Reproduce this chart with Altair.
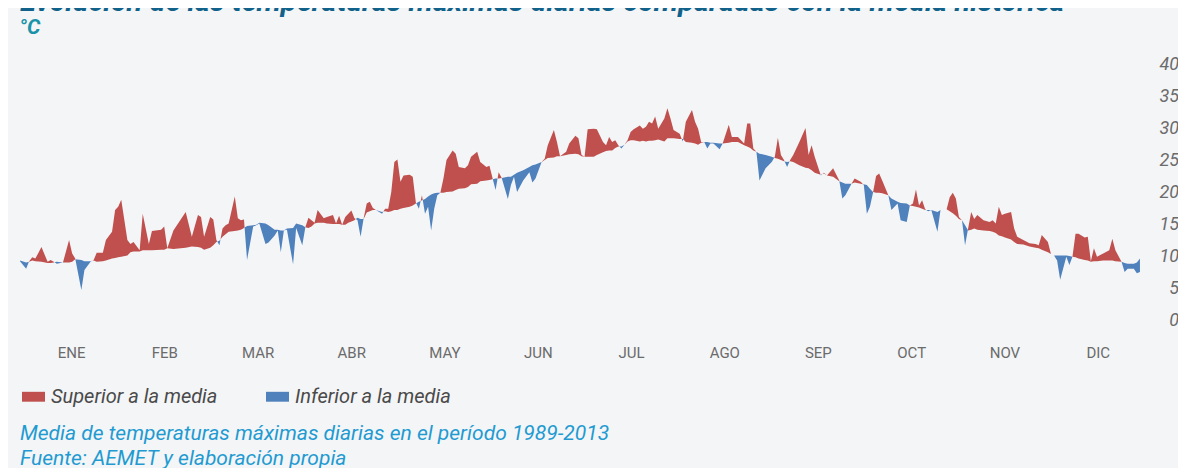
import altair as alt
import pandas as pd

titulo = "Evolución de las temperaturas máximas diarias comparadas con la media histórica"
unidad = "°C"
nota = "Media de temperaturas máximas diarias en el período 1989-2013"
fuente = "Fuente: AEMET y elaboración propia"
series = ["Superior a la media", "Inferior a la media"]
colores = ["#c0504d", "#4f81bd"]
meses = ["ENE", "FEB", "MAR", "ABR", "MAY", "JUN", "JUL", "AGO", "SEP", "OCT", "NOV", "DIC"]
mes_pos = [16.8, 47.2, 77.6, 108.1, 138.5, 168.9, 199.3, 229.7, 260.2, 290.6, 321.0, 351.4]
ticks_y = [0, 5, 10, 15, 20, 25, 30, 35, 40]

# ---- enero - marzo ----
dias_1 = [0, 2, 3, 4, 5, 7, 9, 10, 11, 12,
          14, 16, 17, 18, 20, 21, 23, 24, 25, 27,
          28, 30, 31, 32, 33, 35, 36, 37, 39, 40,
          42, 43, 46, 47, 48, 50, 54, 56, 58, 59,
          60, 62, 63, 64, 65, 66, 67, 68, 70, 71,
          72, 73, 74, 76, 77, 78, 80, 81, 83, 84,
          85, 86, 87, 89, 90, 92, 93]
maxima_1 = [10.6, 9.4, 10.6, 11.2, 11.0, 12.8, 10.5, 10.8, 10.5, 10.2,
            10.4, 13.9, 11.8, 11.0, 6.1, 9.2, 10.5, 10.8, 11.9, 11.9,
            13.9, 15.2, 18.6, 19.1, 20.2, 13.9, 13.3, 13.6, 12.3, 18.0,
            13.3, 15.3, 15.5, 16.0, 12.6, 15.4, 18.3, 14.4, 17.8, 17.5,
            14.4, 17.5, 17.1, 13.9, 13.1, 15.7, 16.2, 16.5, 20.7, 17.3,
            17.0, 17.1, 10.8, 16.0, 16.2, 16.5, 13.3, 13.5, 14.6, 15.4,
            12.0, 15.4, 15.5, 10.1, 15.8, 13.1, 15.9]
media_1 = [10.7, 10.4, 10.5, 10.7, 10.6, 10.5, 10.3, 10.3, 10.4, 10.5,
           10.4, 10.4, 10.5, 10.9, 10.8, 10.6, 10.6, 10.7, 10.5, 10.6,
           10.7, 11.0, 11.1, 11.2, 11.3, 11.5, 12.0, 12.1, 12.1, 12.3,
           12.3, 12.3, 12.4, 12.4, 12.6, 12.5, 12.7, 12.9, 12.8, 12.7,
           12.4, 12.7, 13.1, 13.6, 13.8, 14.4, 14.8, 15.2, 15.3, 15.4,
           15.5, 15.8, 16.1, 16.2, 16.3, 16.6, 16.5, 16.2, 15.5, 15.5,
           15.4, 15.4, 15.7, 15.8, 16.5, 16.2, 15.9]

# ---- abril - junio ----
dias_2 = [94, 95, 96, 97, 99, 100, 102, 103, 104, 105,
          106, 107, 108, 109, 110, 111, 112, 113, 114, 115,
          116, 118, 119, 120, 121, 122, 123, 124, 125, 127,
          128, 129, 130, 131, 132, 133, 134, 135, 136, 137,
          138, 139, 141, 142, 143, 145, 146, 147, 149, 150,
          152, 153, 154, 155, 156, 157, 159, 160, 161, 162,
          164, 166, 167, 168, 170, 171, 172, 174, 175, 176,
          178, 179, 181, 182, 183]
maxima_2 = [17.4, 17.0, 16.6, 18.6, 17.3, 17.5, 17.8, 16.5, 17.7, 16.3,
            17.5, 18.0, 18.5, 17.3, 17.0, 14.4, 17.3, 19.6, 19.9, 18.9,
            18.6, 18.0, 18.8, 18.8, 21.4, 26.1, 26.5, 23.0, 24.0, 24.1,
            23.8, 19.8, 18.8, 20.9, 18.0, 19.1, 15.4, 18.8, 20.9, 21.3,
            23.5, 26.4, 27.9, 27.4, 25.3, 25.1, 25.6, 26.9, 27.7, 26.1,
            25.3, 25.5, 23.6, 21.7, 24.5, 23.6, 20.3, 22.5, 23.8, 21.4,
            23.2, 24.5, 22.9, 23.5, 26.1, 26.6, 28.7, 31.1, 29.2, 27.0,
            27.7, 29.0, 30.2, 29.8, 27.2]
media_2 = [15.8, 16.0, 16.5, 16.6, 16.6, 16.5, 16.4, 16.4, 16.4, 16.3,
           16.3, 16.6, 16.8, 17.0, 17.4, 17.2, 17.2, 18.2, 18.4, 18.6,
           18.6, 18.3, 18.4, 18.3, 18.4, 18.6, 18.6, 18.8, 18.9, 19.1,
           19.3, 19.6, 19.9, 20.1, 20.3, 20.7, 21.0, 21.2, 21.3, 21.3,
           21.3, 21.4, 21.5, 21.7, 21.9, 22.0, 22.2, 22.6, 22.7, 23.1,
           23.2, 23.3, 23.4, 23.5, 23.5, 23.6, 23.8, 23.8, 24.1, 24.4,
           24.8, 25.3, 25.6, 25.7, 26.1, 26.4, 26.7, 26.8, 27.0, 27.0,
           27.2, 27.3, 27.4, 27.3, 27.0]

# ---- julio - septiembre ----
dias_3 = [184, 185, 187, 188, 190, 191, 192, 193, 194, 195,
          196, 197, 198, 199, 200, 202, 203, 204, 205, 206,
          207, 208, 210, 211, 212, 213, 215, 216, 217, 219,
          220, 221, 222, 223, 224, 225, 226, 228, 229, 231,
          232, 234, 236, 237, 238, 239, 240, 241, 243, 245,
          246, 247, 248, 249, 250, 251, 252, 254, 256, 257,
          258, 259, 261, 262, 263, 265, 267, 268, 269, 271,
          272, 274, 275]
maxima_3 = [26.9, 31.2, 31.3, 31.2, 29.2, 28.7, 30.0, 29.2, 29.5, 28.7,
            28.2, 28.8, 29.5, 30.8, 31.2, 31.8, 31.3, 31.6, 32.4, 32.1,
            33.2, 31.3, 32.9, 34.5, 32.9, 31.1, 30.5, 29.3, 32.4, 34.2,
            32.4, 31.3, 29.2, 29.2, 28.2, 29.0, 29.0, 28.1, 29.0, 31.9,
            30.0, 30.0, 29.0, 32.1, 32.1, 28.2, 27.7, 23.2, 25.1, 26.1,
            26.9, 29.9, 27.2, 26.4, 25.3, 26.4, 27.2, 29.2, 31.4, 27.2,
            28.7, 26.9, 24.0, 24.4, 24.0, 25.1, 23.2, 20.4, 20.9, 22.7,
            23.5, 23.0, 22.5]
media_3 = [26.9, 26.9, 26.9, 27.2, 27.6, 27.8, 27.9, 27.9, 28.3, 28.5,
           28.5, 28.8, 29.3, 29.5, 29.5, 29.3, 29.4, 29.3, 29.4, 29.4,
           29.5, 29.6, 29.3, 29.8, 29.8, 29.8, 29.7, 29.7, 29.2, 29.1,
           29.0, 28.8, 29.1, 29.2, 29.2, 29.1, 29.1, 29.0, 29.0, 29.1,
           29.2, 29.2, 28.7, 28.5, 28.3, 27.9, 27.7, 27.4, 27.2, 26.9,
           26.7, 26.6, 26.4, 26.2, 26.1, 26.2, 26.1, 25.6, 25.2, 25.1,
           24.8, 24.4, 24.1, 24.3, 24.0, 23.8, 23.1, 22.9, 22.7, 22.7,
           22.9, 22.7, 22.6]

# ---- octubre - diciembre ----
dias_4 = [276, 277, 278, 279, 280, 281, 283, 284, 286, 287,
          289, 290, 291, 292, 293, 294, 295, 296, 297, 299,
          300, 302, 303, 304, 305, 306, 307, 308, 309, 310,
          311, 312, 314, 316, 317, 318, 319, 320, 321, 323,
          324, 325, 327, 329, 331, 332, 333, 335, 336, 337,
          338, 339, 341, 342, 343, 344, 345, 347, 348, 349,
          350, 351, 353, 355, 356, 357, 359, 360, 361, 363,
          364, 365]
maxima_4 = [18.0, 19.1, 21.3, 23.9, 24.3, 23.2, 20.9, 18.6, 19.6, 17.0,
            16.7, 19.3, 19.6, 21.8, 19.3, 20.1, 18.7, 18.4, 18.6, 15.2,
            18.6, 18.7, 20.6, 21.3, 20.4, 17.5, 17.0, 13.1, 15.7, 18.3,
            17.2, 17.8, 17.0, 16.7, 17.0, 16.5, 19.1, 17.8, 18.0, 18.3,
            15.7, 14.4, 13.9, 13.4, 13.3, 13.1, 14.7, 13.6, 11.7, 11.5,
            10.7, 7.7, 11.3, 10.0, 11.3, 14.9, 14.9, 14.3, 14.4, 10.6,
            12.6, 11.3, 11.8, 12.3, 14.1, 12.3, 10.5, 8.9, 9.4, 9.4,
            8.7, 8.9]
media_4 = [22.5, 21.9, 21.4, 21.3, 21.3, 21.2, 20.9, 20.4, 19.9, 19.7,
           19.6, 19.3, 19.2, 19.1, 19.0, 18.8, 18.6, 18.6, 18.6, 18.3,
           18.6, 18.7, 18.4, 18.1, 17.7, 17.2, 17.0, 16.2, 15.4, 15.5,
           15.7, 15.5, 15.4, 15.3, 15.2, 15.0, 14.6, 14.5, 14.3, 14.0,
           13.6, 13.3, 13.2, 12.9, 12.7, 12.6, 12.4, 12.0, 11.7, 11.5,
           11.5, 11.5, 11.5, 11.4, 11.3, 11.2, 11.0, 10.8, 10.7, 10.5,
           10.6, 10.6, 10.7, 10.7, 10.7, 10.6, 10.5, 10.3, 10.2, 10.2,
           10.4, 11.0]

dias = dias_1 + dias_2 + dias_3 + dias_4
maxima = maxima_1 + maxima_2 + maxima_3 + maxima_4
media = media_1 + media_2 + media_3 + media_4
assert len(dias) == len(maxima) == len(media)

# puntos de cruce entre la serie diaria y la media (para separar colores)
pts = []
for i in range(len(dias)):
    if i > 0:
        e0 = maxima[i - 1] - media[i - 1]
        e1 = maxima[i] - media[i]
        if e0 * e1 < 0:
            t = e0 / (e0 - e1)
            dc = dias[i - 1] + t * (dias[i] - dias[i - 1])
            mc = media[i - 1] + t * (media[i] - media[i - 1])
            pts.append((dc, mc, mc))
    pts.append((dias[i], maxima[i], media[i]))

rows = []
for d, a, m in pts:
    rows.append({"dia": d, "serie": series[0], "y": m, "y2": max(a, m)})
    rows.append({"dia": d, "serie": series[1], "y": min(a, m), "y2": m})
df = pd.DataFrame(rows)

W, H = 1160, 256
FONT = "Roboto"
xs = alt.Scale(domain=[-0.65, 377.4], nice=False, zero=False)
ys = alt.Scale(domain=[0, 40], nice=False, zero=False)

rect_path = "M-1,-0.43L1,-0.43L1,0.43L-1,0.43Z"

areas = alt.Chart(df).mark_area(interpolate="linear", opacity=1).encode(
    x=alt.X("dia:Q", scale=xs,
            axis=alt.Axis(labels=False, ticks=False, grid=False, domain=True,
                          domainColor="#b8b8b8", domainWidth=2, title=None)),
    y=alt.Y("y:Q", scale=ys,
            axis=alt.Axis(values=ticks_y, grid=True, gridColor="#dadada", gridWidth=2,
                          labels=False, ticks=False, domain=False, title=None)),
    y2="y2:Q",
    color=alt.Color("serie:N", scale=alt.Scale(domain=series, range=colores),
                    legend=alt.Legend(orient="none", legendX=4, legendY=312,
                                      direction="horizontal", title=None,
                                      symbolType=rect_path, symbolSize=529,
                                      symbolStrokeWidth=0, symbolOpacity=1,
                                      labelFont=FONT, labelFontStyle="italic",
                                      labelFontSize=20, labelColor="#4a4a4a",
                                      labelOffset=6, columnPadding=48, labelLimit=400)),
)

ylab = alt.Chart(pd.DataFrame({"v": ticks_y})).mark_text(
    align="right", baseline="alphabetic", dy=-3, font=FONT, fontStyle="italic",
    fontSize=18, color="#6b6b6b"
).encode(x=alt.value(W + 1), y=alt.Y("v:Q", scale=ys, axis=None), text=alt.Text("v:Q"))

mlab = alt.Chart(pd.DataFrame({"m": meses, "p": mes_pos})).mark_text(
    align="center", baseline="alphabetic", font=FONT, fontSize=15, color="#6b6b6b"
).encode(x=alt.X("p:Q", scale=xs, axis=None), y=alt.value(H + 29), text="m:N")


def texto(t, x, y, size, color, weight="normal"):
    return alt.Chart(pd.DataFrame({"t": [t]})).mark_text(
        align="left", baseline="alphabetic", font=FONT, fontStyle="italic",
        fontWeight=weight, fontSize=size, color=color
    ).encode(x=alt.value(x), y=alt.value(y), text="t:N")


t_titulo = texto(titulo, 2, -62, 29, "#11628a", "bold")
t_unidad = texto(unidad, 1, -39, 21, "#1a92a8", "bold")
t_nota = texto(nota, 2, 367, 21, "#1f9bd1")
t_fuente = texto(fuente, 2, 392, 21, "#1f9bd1")

chart = alt.layer(areas, ylab, mlab, t_titulo, t_unidad, t_nota, t_fuente).properties(
    width=W, height=H,
    padding={"left": 10, "top": 65, "right": 0, "bottom": 140},
    autosize=alt.AutoSizeParams(type="none"),
    background="#f4f5f7",
).configure_view(stroke=None)

chart.save("out.html", embed_options={"renderer": "svg", "actions": False})
